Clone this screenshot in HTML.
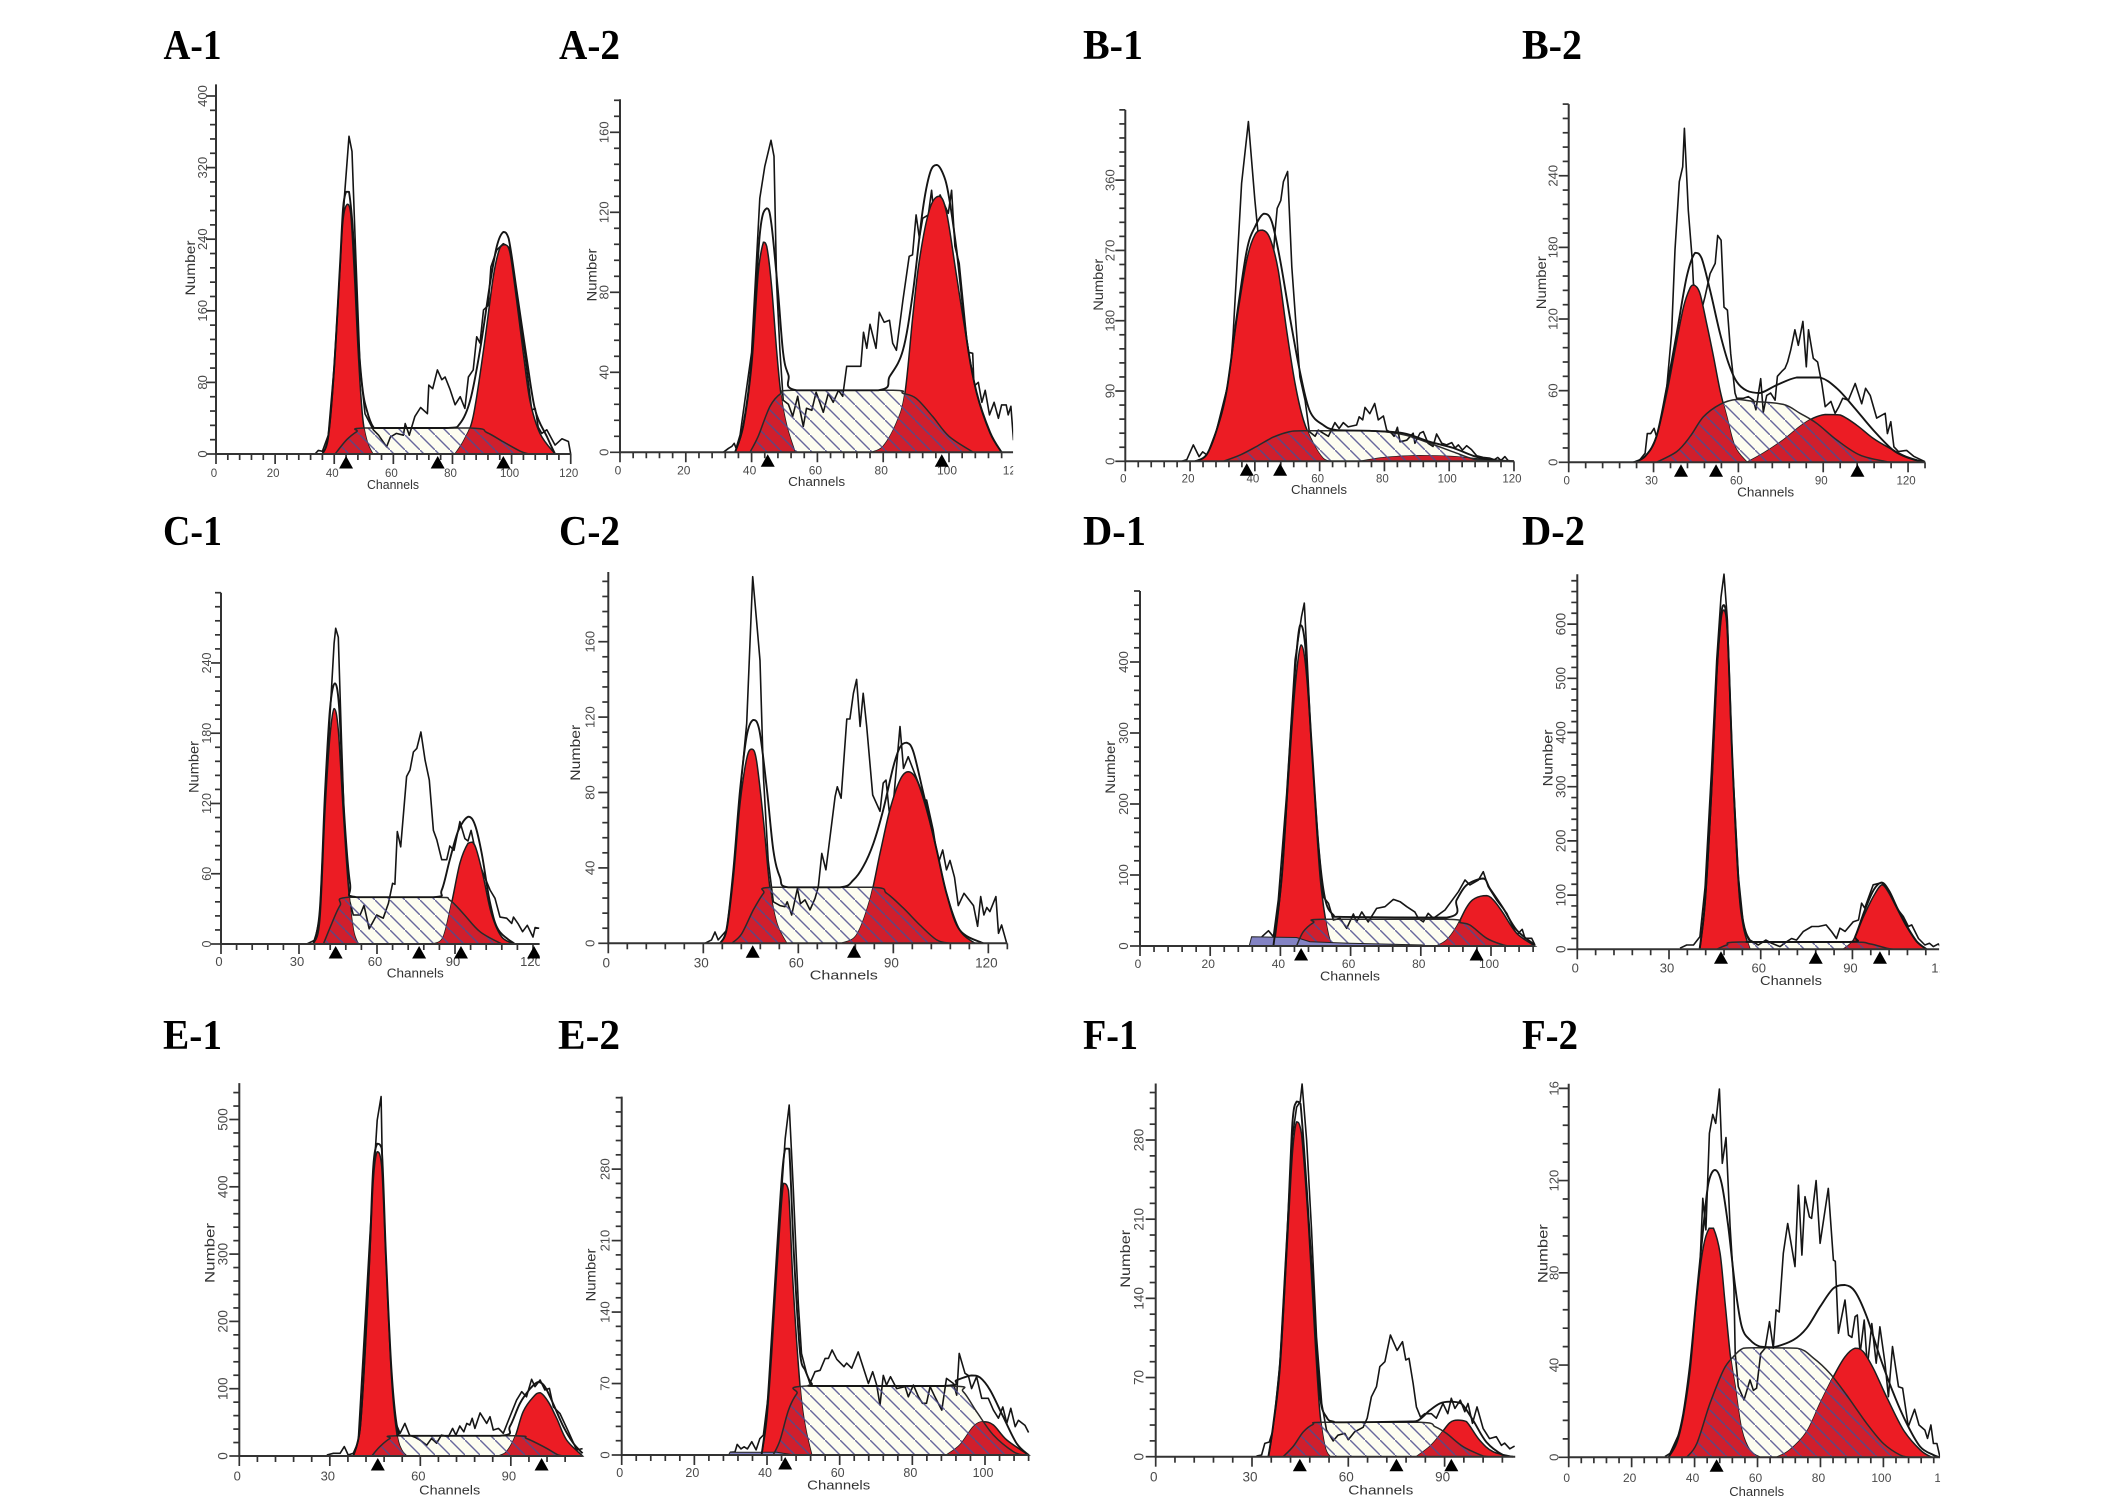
<!DOCTYPE html>
<html lang="en">
<head>
<meta charset="utf-8">
<title>Cell cycle DNA histograms</title>
<style>
html,body{margin:0;padding:0;background:#fff;}
svg{display:block;}
.title{font-family:"Liberation Serif",serif;font-weight:bold;font-size:42px;fill:#000;}
.xt{font-family:"Liberation Sans",sans-serif;font-size:13px;fill:#333;text-anchor:middle;}
.yt{font-family:"Liberation Sans",sans-serif;font-size:14px;fill:#333;text-anchor:middle;}
.tick{font-family:"Liberation Sans",sans-serif;fill:#4a4a4a;}
</style>
</head>
<body>
<svg id="figure" xmlns="http://www.w3.org/2000/svg" width="2126" height="1510" viewBox="0 0 2126 1510">
<defs>
<pattern id="hatch" patternUnits="userSpaceOnUse" width="15" height="15">
<path d="M-2,-2L17,17" stroke="#4d4d8e" stroke-opacity="0.85" stroke-width="1.4" fill="none"/>
</pattern>
</defs>
<rect width="2126" height="1510" fill="#fff"/>

<g id="a1">
<text class="title" x="163.5" y="59" textLength="58" lengthAdjust="spacingAndGlyphs">A-1</text>
<text class="xt" x="393" y="489" textLength="52" lengthAdjust="spacingAndGlyphs">Channels</text>
<text class="yt" transform="translate(195 268) rotate(-90)" textLength="55" lengthAdjust="spacingAndGlyphs">Number</text>
</g>
<g id="a2">
<text class="title" x="559" y="59" textLength="61" lengthAdjust="spacingAndGlyphs">A-2</text>
<text class="xt" x="816.7" y="486" textLength="57" lengthAdjust="spacingAndGlyphs">Channels</text>
<text class="yt" transform="translate(596.7 275) rotate(-90)" textLength="53" lengthAdjust="spacingAndGlyphs">Number</text>
</g>
<g id="b1">
<text class="title" x="1083" y="59" textLength="60" lengthAdjust="spacingAndGlyphs">B-1</text>
<text class="xt" x="1319" y="494" textLength="56" lengthAdjust="spacingAndGlyphs">Channels</text>
<text class="yt" transform="translate(1103 284.8) rotate(-90)" textLength="52" lengthAdjust="spacingAndGlyphs">Number</text>
</g>
<g id="b2">
<text class="title" x="1522" y="59" textLength="60" lengthAdjust="spacingAndGlyphs">B-2</text>
<text class="xt" x="1765.7" y="496.7" textLength="57" lengthAdjust="spacingAndGlyphs">Channels</text>
<text class="yt" transform="translate(1546 282.7) rotate(-90)" textLength="53" lengthAdjust="spacingAndGlyphs">Number</text>
</g>
<g id="c1">
<text class="title" x="163" y="545" textLength="59" lengthAdjust="spacingAndGlyphs">C-1</text>
<text class="xt" x="415.3" y="977.7" textLength="57" lengthAdjust="spacingAndGlyphs">Channels</text>
<text class="yt" transform="translate(198.3 767) rotate(-90)" textLength="52" lengthAdjust="spacingAndGlyphs">Number</text>
</g>
<g id="c2">
<text class="title" x="559" y="545" textLength="61" lengthAdjust="spacingAndGlyphs">C-2</text>
<text class="xt" x="843.8" y="979.3" textLength="68" lengthAdjust="spacingAndGlyphs">Channels</text>
<text class="yt" transform="translate(580 752.8) rotate(-90)" textLength="56" lengthAdjust="spacingAndGlyphs">Number</text>
</g>
<g id="d1">
<text class="title" x="1083" y="545" textLength="63" lengthAdjust="spacingAndGlyphs">D-1</text>
<text class="xt" x="1350" y="980.3" textLength="60" lengthAdjust="spacingAndGlyphs">Channels</text>
<text class="yt" transform="translate(1115 767.3) rotate(-90)" textLength="53" lengthAdjust="spacingAndGlyphs">Number</text>
</g>
<g id="d2">
<text class="title" x="1522" y="545" textLength="63" lengthAdjust="spacingAndGlyphs">D-2</text>
<text class="xt" x="1791" y="985" textLength="62" lengthAdjust="spacingAndGlyphs">Channels</text>
<text class="yt" transform="translate(1552.3 758) rotate(-90)" textLength="57" lengthAdjust="spacingAndGlyphs">Number</text>
</g>
<g id="e1">
<text class="title" x="163" y="1049" textLength="59" lengthAdjust="spacingAndGlyphs">E-1</text>
<text class="xt" x="449.7" y="1494.7" textLength="61" lengthAdjust="spacingAndGlyphs">Channels</text>
<text class="yt" transform="translate(214.3 1253) rotate(-90)" textLength="60" lengthAdjust="spacingAndGlyphs">Number</text>
</g>
<g id="e2">
<text class="title" x="558" y="1049" textLength="62" lengthAdjust="spacingAndGlyphs">E-2</text>
<text class="xt" x="838.7" y="1489.3" textLength="63" lengthAdjust="spacingAndGlyphs">Channels</text>
<text class="yt" transform="translate(595.7 1275) rotate(-90)" textLength="53" lengthAdjust="spacingAndGlyphs">Number</text>
</g>
<g id="f1">
<text class="title" x="1083" y="1049" textLength="55" lengthAdjust="spacingAndGlyphs">F-1</text>
<text class="xt" x="1380.8" y="1494.7" textLength="65" lengthAdjust="spacingAndGlyphs">Channels</text>
<text class="yt" transform="translate(1130 1258.8) rotate(-90)" textLength="58" lengthAdjust="spacingAndGlyphs">Number</text>
</g>
<g id="f2">
<text class="title" x="1522" y="1049" textLength="56" lengthAdjust="spacingAndGlyphs">F-2</text>
<text class="xt" x="1756.7" y="1496" textLength="55" lengthAdjust="spacingAndGlyphs">Channels</text>
<text class="yt" transform="translate(1547.7 1253.7) rotate(-90)" textLength="59" lengthAdjust="spacingAndGlyphs">Number</text>
</g>
</svg>

<script>
/* ---------- chart values: [channel, count] ---------- */
const a1XTicks=[0,20,40,60,80,100,120];
const a1YTicks=[0,80,160,240,320,400];
const a1Markers=[44,75,97.2];
const a1G1=[[36,0],[38,20],[40,95],[42,210],[43,262],[44.4,279],[45.6,268],[47,190],[48,120],[49.5,45],[51,15],[53,0]];
const a1S=[[40.3,0],[44.2,16],[47.6,25],[50.4,29],[86,29],[91.6,24],[97,14],[103,3],[106,0]];
const a1G2=[[80.9,0],[84,16],[87,42],[90.5,116],[93.8,198],[96,230],[97.8,234],[99.5,224],[101.7,172],[104,112],[106.2,60],[109.6,23],[114.7,0]];
const a1Fit=[[36,0],[38,20],[40,98],[42,215],[43,275],[44,293],[45,293],[46.5,240],[48,135],[49.5,75],[51,49],[53.2,30],[55,29],[78,29],[82.5,34],[86,60],[89.3,116],[92.7,190],[95,232],[97.2,248],[99,241],[101.7,183],[105,109],[108,49],[112,19],[114.7,0]];
const a1Raw=[[33.5,0],[34.6,4],[36,3],[38,21],[40,98],[42,209],[43.5,290],[45,355],[46,338],[47,247],[48.7,98],[50.4,45],[53.2,27],[55,21],[57.7,8],[59,19],[61,23],[63.4,21],[64,34],[65.4,21],[67.3,42],[69.2,52],[71.5,45],[72,77],[73.3,73],[74.9,94],[76.4,83],[77.5,86],[79.2,72],[80.9,55],[82.6,64],[84.2,51],[85.4,86],[87,94],[88.2,131],[89.3,124],[90.5,161],[92.1,166],[93,209],[95,228],[97.2,235],[99.5,230],[101.7,172],[104.5,112],[106.8,49],[108,51],[109,30],[110.2,23],[111.9,27],[114.7,10],[117,17],[119.2,14],[120,0]];

const a2XTicks=[0,20,40,60,80,100,120];
const a2YTicks=[0,40,80,120,160];
const a2Markers=[44.9,97.8];
const a2G1=[[35,0],[37.5,13],[40,43],[42,89.5],[43.6,105],[44.6,103],[46,84.5],[47.6,51],[49,28],[50.7,13],[53.2,0]];
const a2S=[[39.5,0],[42,8],[45.6,23],[49,29.5],[52.7,31],[83,31],[86,29.5],[90,27],[95,18],[100,8],[107.4,0]];
const a2G2=[[76.5,0],[80,3],[84,14.5],[86.6,29.5],[89,68],[91,96],[94,121],[97,128],[99.3,119.5],[102.3,88],[105.4,56],[108.4,29.5],[112.5,9.5],[116,0]];
const a2Fit=[[35,0],[37.5,14],[40,46],[42.5,109],[44.6,122],[46,114.5],[48,81],[49.6,49.5],[51.2,38.7],[53.7,31],[78.5,31],[82,38],[86,51],[89,79.5],[92,121],[94.2,139.5],[96.2,143.7],[98,140],[99.8,129.5],[102.3,101],[105.4,56],[108.4,30],[112.5,10],[116,0]];
const a2Raw=[[31.4,0],[33,2],[34,3],[34.7,4.5],[35.3,2],[36.5,8.7],[40,50],[42.5,127],[44,143],[45.9,156],[46.8,148],[47.6,84.5],[48.6,51],[49.6,26],[51.2,24],[52.5,18],[54,28],[54.7,21],[55.7,13],[56.7,22],[58.3,21],[59.6,30],[60.3,27],[61.8,20],[63.3,29.5],[64.8,25],[66.4,31],[67.7,28],[68.9,43],[73.2,43],[74,60],[75,52],[76,64],[77.8,52],[78.8,70],[80.3,65],[81.9,66],[82.9,54.5],[84,51],[86,76],[87.9,98],[88.9,98.7],[90,118.7],[91,107],[92,117],[93.7,118.7],[94.7,131],[95.4,118.7],[97.3,128.7],[99.8,119.5],[100.8,131],[101.8,103],[103.1,94.5],[105.4,56],[106,50],[107.2,49.5],[107.6,33],[108.9,35],[110,25],[111,31],[112.3,18.7],[113.7,25],[115,17],[116,23.7],[117.4,23.7],[118,18.7],[118.8,23],[119.6,6]];

const b1XTicks=[0,20,40,60,80,100,120];
const b1YTicks=[0,90,180,270,360];
const b1Markers=[37.5,47.8];
const b1G1=[[21.5,0],[25,8],[28.2,40],[31.3,91],[34.4,181],[37.5,258],[40,290],[42.4,296],[44.7,285],[47.2,245],[49.8,168],[52.4,100],[55,53],[58,23],[61,4],[63.2,0]];
const b1S=[[30.3,0],[35.4,8],[40.5,19],[45.7,31],[50.8,38],[55,39],[75.5,39],[85.8,34],[94,23],[101.3,12],[107.4,3],[112.6,0]];
const b1G2=[[72.5,0],[80.7,5],[91,7],[101,6],[111.5,2],[116.7,0]];
const b1Fit=[[21.5,0],[25,8],[28.2,40],[31.3,91],[34.4,185],[37.5,270],[40,300],[42.8,317],[45.2,307],[47.8,258],[50.8,185],[54,113],[57,64],[61.1,46.5],[65.2,40],[75.5,39],[85.8,36],[94,25],[101.3,17],[107.4,7],[112.6,2],[120,0]];
const b1Raw=[[17.4,0],[19,2],[21,21],[22.8,6],[23.9,12],[25.3,8],[28.2,40],[32.3,108],[33.3,164],[35.9,356],[38,435],[40,334],[42,249],[44.7,206],[46.2,292],[46.9,324],[48,334],[48.8,358],[50.1,371],[51.4,249],[52.9,164],[53.9,108],[55.5,78],[56.8,38],[58.6,32],[59.6,40],[61.1,36],[62.7,32],[64.7,49.5],[66,42],[67.3,49.5],[68.8,44],[71.4,46.5],[72.2,57],[73.3,53],[74,69],[75.5,61],[77,74],[78.1,53],[79.7,58],[80.7,40],[82.2,36],[83,32],[84,43.5],[84.8,25],[86.9,27],[88.9,36],[89.4,23],[91,36],[92,38],[93.5,23],[95,19],[96.1,35],[97.7,23],[99.2,21],[100.8,24],[101.8,17],[102.8,21],[104.1,14.5],[105.4,20],[106.9,15],[108.5,7],[110.5,5],[112.6,4],[114,2],[115,5],[116,1],[117.2,6],[118.2,1],[120,0]];

const b2XTicks=[0,30,60,90,120];
const b2YTicks=[0,60,120,180,240];
const b2Markers=[39.7,52.1,102.1];
const b2G1=[[22.9,0],[27,5],[31,21.5],[34.7,58],[37.6,94],[40.6,130],[42.9,146],[44.3,148.5],[46.4,141.5],[48.8,116],[51.2,88.5],[53.5,60.5],[55.9,38],[58.8,13],[63,0]];
const b2S=[[31,0],[38.2,9],[42.9,21.5],[47.6,38],[53.5,48.5],[59.4,52.7],[65.3,51],[75.9,48.5],[81.8,41],[87.7,32.7],[94.8,18.7],[103,6],[112.5,0.5],[114.8,0]];
const b2G2=[[63,0],[68.8,7.5],[75.9,18.7],[81.8,30],[86.5,37],[90.7,40],[96,39.6],[101.9,31],[107.7,20],[113.6,11.7],[119.5,4.7],[126,0]];
const b2Fit=[[22.9,0],[27,5],[31,21.5],[34.7,63],[38.2,108],[41.7,155],[44.7,175.5],[47,171],[50,144],[53.5,108],[56.5,83],[59.4,67.5],[63,60],[67.7,58],[73.6,64.7],[80.6,71],[88.9,71],[94.8,62],[100.7,46.6],[107.7,27],[114.8,10],[120.7,3.3],[126,0]];
const b2Raw=[[24.6,0.5],[27,7.5],[27.8,24],[29,24],[30.2,28.5],[31.4,18.7],[34.7,63],[36.4,108],[37.6,178],[39.1,235],[40.3,247.5],[40.9,279.7],[42.3,211],[43.7,169],[44.1,150],[46.4,122],[48.2,138.7],[50,158],[51.8,166.6],[52.7,190],[53.9,186],[54.9,130],[56.1,127.5],[57.3,91],[58.8,58],[59.4,53.6],[61.8,53.6],[63.5,55],[65.3,52],[66.2,44],[67.9,70],[68.8,42],[70,56],[71.4,58],[73,52],[73.8,72],[75.3,76],[76.5,78.7],[77.4,84],[78.5,94],[80,111],[81.2,98],[82.8,118],[84,80],[84.8,111],[86.5,87],[88,84],[89.5,66],[90.7,46.6],[92.7,51],[94.2,41],[95.4,46],[96.9,53.6],[98.9,52],[101.3,66],[103.6,49],[105,62],[106.6,56],[108.9,37],[111.9,41],[112.7,24],[113.9,34],[115,13],[116.6,9],[119.5,10],[122,5],[126,0.5]];

const c1XTicks=[0,30,60,90,120];
const c1YTicks=[0,60,120,180,240];
const c1Markers=[44.1,76.2,92.3,120.4];
const c1G1=[[35.5,0],[38,20.5],[40,114],[41.9,177],[43.5,201],[45.1,183],[47,114],[49,49],[50.9,12],[52.8,0]];
const c1S=[[39.4,0],[42.6,17.6],[45.8,33],[49,40],[83,40],[88,37.5],[93.2,26],[99.6,10.5],[108,0]];
const c1G2=[[81.7,0],[85.5,6],[88.7,35],[91.9,69],[95,86],[96.7,87],[98.3,80],[100.9,57.5],[104,26],[108,6],[113,0]];
const c1Fit=[[35.5,0],[38,29],[40,129],[41.9,200],[43.8,222.6],[45.5,200],[47.3,114],[49.6,52],[52.2,40],[81.7,40],[84.9,46],[88,72],[91.3,97],[95.1,108.7],[97.7,101.6],[100.3,77],[103.5,35],[106.7,12],[113,0]];
const c1Raw=[[33,0],[36.2,3.4],[38,23],[40,120],[41.9,194],[43.5,256.8],[44.1,269.6],[45.1,262],[46.4,171],[47.7,86],[49.4,37.6],[50.9,24.8],[53.5,24.8],[55,33],[57,13],[59.9,24.8],[62.4,22],[64.4,34.7],[66,51.8],[66.9,51],[67.8,96],[69.1,83],[71.4,143],[72.7,148.6],[74,164],[75.3,167],[76.9,181],[78.5,157],[80.1,140],[81.7,97],[83,89],[84.9,72],[86.8,72],[88,83.7],[89.6,80],[91.9,104.5],[93.8,90],[95,88],[96.2,97],[98.3,74.6],[100.9,60],[103.5,46],[105.4,39],[107.3,23],[109.9,22],[111.8,17.6],[112.5,23],[114.2,17.6],[116,10.5],[117.8,16],[120,6],[120.8,14],[122.4,13.4]];

const c2XTicks=[0,30,60,90,120];
const c2YTicks=[0,40,80,120,160];
const c2Markers=[45.6,77.6];
const c2G1=[[35.3,0],[37.4,7],[39.5,35],[41.6,74],[43.7,98],[45.3,103],[46.8,97],[49,65],[51,30],[53.2,10.6],[56.3,0]];
const c2S=[[39,0],[42.1,5],[45.8,17.7],[49,26.5],[51.6,29.7],[83.2,29.7],[87.9,26.5],[93.2,18.6],[98.4,9.7],[103.7,1.8],[107.9,0]];
const c2G2=[[73.7,0],[78.4,4.4],[82.6,23],[85.8,47.7],[88.9,70.7],[92.1,86.6],[94.7,91],[97.4,86.6],[100.5,70.7],[103.7,49.5],[106.8,26.5],[111,7],[115.8,0]];
const c2Fit=[[35.3,0],[37.4,8],[39.5,39],[41.6,81],[43.7,110],[45.8,118.5],[47.7,113],[50,83],[52.1,49.5],[54.2,35],[56.8,29.7],[73.2,29.7],[77.4,33.6],[80.5,40.7],[83.7,53],[86.8,70.7],[90,93.7],[92.1,104],[94.2,106.4],[96.3,101.7],[99.5,79.6],[103.7,49.5],[106.8,26.5],[111,7],[118.4,0]];
const c2Raw=[[30.5,0],[32.6,1.8],[33.7,6],[34.7,1.8],[37.4,7],[39.5,35],[42.1,88],[43.7,116.7],[45.6,194.5],[46.8,171.5],[47.9,150],[49,88],[50.5,44],[52.1,22],[54.2,20],[55.8,19.4],[56.5,22],[57.9,15],[59.7,29],[60.7,21],[62.1,23],[63.7,17.7],[65.3,23.9],[66.3,30],[67.4,47.7],[68.7,39],[71.6,77.8],[72.3,83],[73.5,77],[75.3,119],[76.3,119],[77.4,132.6],[78.4,140],[79.5,115],[80.5,132.6],[81.6,115],[83.5,78.7],[85.8,70],[86.8,85],[87.7,86.6],[88.7,70],[90,74],[92.1,115],[93.2,92.8],[94.7,99],[96.3,92],[100,76],[100.5,76],[102.6,60],[104.2,42.4],[105.6,49.5],[106.8,39],[107.9,44],[109.3,35],[110.5,20],[112.3,26.5],[115.3,20],[116.6,9],[117.6,24.8],[118.6,15],[119.5,19],[120.5,16.8],[122.4,24.8],[123.2,5.3],[124.2,9.7],[125.8,0]];

const d1XTicks=[0,20,40,60,80,100];
const d1YTicks=[0,100,200,300,400];
const d1Markers=[45.9,95.9];
const d1Debris=[[31.1,0],[31.8,13],[44.6,12],[48.4,6],[59.8,4],[80.7,1.4],[81,0]];
const d1G1=[[38,0],[38.5,10.8],[40.4,97.6],[42.3,238],[44.2,365],[45.9,424],[47.5,379],[49.4,238],[51.3,97.6],[53.2,27],[54.6,0]];
const d1S=[[44.6,0],[46.5,20],[49.4,33],[52.2,37.6],[87.4,37.6],[91.2,33],[94,29.6],[98.8,10.8],[103.5,1.4],[105.4,0]];
const d1G2=[[84.5,0],[87.4,8.5],[90.2,27],[93.1,55],[95.4,67],[98.8,71],[101.1,62.4],[103.5,46],[107.3,18],[112.5,0]];
const d1Fit=[[38,0],[40.4,97.6],[42.3,248],[44.2,389],[45.6,452],[47,426],[48.9,285],[50.8,144.6],[52.7,67],[55.1,43.7],[57.9,41],[87.4,40],[90.2,64.8],[93.1,86],[97.8,95],[99.7,81],[103.5,53],[107.3,22.5],[112.5,1.4]];
const d1Raw=[[34.7,13],[36.6,21.6],[38,13],[39.4,65],[41.8,215],[44.2,403],[46,464],[46.8,483],[47.3,436],[48.9,276],[50.8,144],[52.2,69.5],[53.7,60],[55.1,36.6],[57,39],[58.9,25],[60.8,45],[61.7,34],[63.2,48],[65,34],[67.4,53],[69.8,55.4],[72.2,65.7],[74.1,62.4],[76,55.4],[78.3,48],[79.3,39],[80.7,34],[82.1,46],[83.6,39],[86.9,50.7],[90.7,76.5],[92.6,93],[94,86],[96.4,93],[97.8,104.7],[99.2,83.6],[101.6,64.8],[104.5,46],[107.3,15.5],[108.9,23.5],[109.7,10.8],[111.6,10.8],[112.5,1.4]];

const d2XTicks=[0,30,60,90,120];
const d2YTicks=[0,100,200,300,400,500,600];
const d2Markers=[47,78,99];
const d2G1=[[40.1,0],[41.8,85],[43.9,288],[45.6,503],[47,607],[48,626],[49.1,583],[50.7,349],[52.7,122],[54.3,42],[56.5,0]];
const d2S=[[45.6,0],[48.9,8],[53.2,13.5],[89.2,13.5],[95.7,10],[101.2,2],[103.4,0]];
const d2G2=[[87,0],[90.3,17],[93.6,60],[96.8,97],[99.6,119],[101.7,106],[104.5,76],[107.7,42],[111,14],[114.3,0]];
const d2Fit=[[40,0],[41.8,90],[43.9,295],[45.6,510],[47,615],[48,635],[49.1,590],[50.7,355],[52.7,130],[54.3,50],[56.5,14],[58,13.5],[89,13.5],[91,25],[94,72],[97,110],[99.6,123],[102,108],[104.5,78],[107.7,44],[111,15],[114.3,0]];
const d2Raw=[[33.6,2],[35.8,8],[38,8],[40.1,23],[41.8,115],[43.9,330],[45.6,533],[47,650],[48,692],[49.1,607],[50.7,349],[52.7,134],[54.5,36],[56.5,17],[59.2,8],[61.7,17],[63.6,11],[66.3,5],[68.5,14],[70.1,20],[71.7,17],[73.9,32.6],[76.7,42],[78.9,42],[81.4,45],[83.2,32.6],[84.8,20],[85.9,39],[87.6,33],[90.3,51],[92,54],[93,85],[94,76],[96.8,119],[99.6,123],[101.7,109],[104.5,76],[106.7,60],[108.3,42],[109.4,45],[111.6,20],[113.7,8],[115.2,11],[116.5,5],[118.1,10],[118.8,5]];

const e1XTicks=[0,30,60,90];
const e1YTicks=[0,100,200,300,400,500];
const e1Markers=[45.9,100.2];
const e1G1=[[37.8,0],[40,38.6],[41.7,152],[43.3,301],[44.4,410],[45.7,452],[47.2,430],[48.6,291],[50.5,113],[52.2,33.7],[53.8,9],[55.5,0]];
const e1S=[[43.9,0],[46.6,14],[49.9,26],[52.7,30],[90.8,30],[95.2,26],[100.8,14],[105.7,1.5],[107.4,0]];
const e1G2=[[85.9,0],[88.6,6.4],[91.4,28.7],[94.1,66],[97.5,88],[99.7,94],[102.4,80.7],[105.2,56],[108.5,23.8],[113.8,0]];
const e1Fit=[[37.8,0],[40,41],[41.7,162],[43.3,311],[44.4,430],[45.7,464],[47.2,457],[48.6,300],[50.5,123],[52.7,34],[55.5,30],[86.4,30],[89.7,44],[93,78],[96.4,100],[99.1,110],[101.3,103],[104,78],[107.4,44],[110.7,19],[113.8,4]];
const e1Raw=[[29,1.5],[31.2,4],[33.4,4],[34.8,14],[36.1,1.5],[37.8,4],[39.4,21],[41.1,152],[43.3,326],[45,449],[45.7,499],[47,534],[47.5,410],[48.8,241.6],[51,58],[53.3,33.7],[54.9,48.5],[56.4,31],[58.2,28],[59.9,23.8],[62.1,16],[63.7,26],[65.4,19],[67,31],[69.3,28.7],[70.7,41],[71.8,31],[73.1,44.6],[74.4,36],[75.4,48.5],[76.4,46],[77.2,56],[78.1,41],[79.8,64],[82,48.5],[83.1,58.4],[84.2,38.6],[85.9,41],[87.5,33.7],[89.7,58.4],[91.9,83],[93.6,95.5],[95.2,88],[96.9,113.9],[98,103],[99.7,112.9],[101.3,98],[102.8,100.5],[104.1,73],[106.3,63],[109.1,36],[111.8,9],[113.8,11]];

const e2XTicks=[0,20,40,60,80,100];
const e2YTicks=[0,70,140,210,280];
const e2Markers=[45];
const e2Debris=[[29.4,0],[29.8,2.6],[42.7,2.6],[46.4,0.6],[46.6,0]];
const e2G1=[[38.5,0],[39.9,34],[41.3,99.5],[42.7,181],[44.5,266],[45.9,259],[47.2,165],[49.1,67],[50.5,28],[52.3,0]];
const e2S=[[41.7,0],[43.6,14.7],[45.9,44],[48.2,60],[50.9,67.6],[90.4,67.6],[94,62],[97.7,42.4],[102.3,19.6],[107.8,3.3],[110.6,0]];
const e2G2=[[89.4,0],[93.1,9.8],[96.8,27.7],[99.5,32.6],[102.3,29.4],[106,14.7],[112,0]];
const e2Fit=[[38.5,0],[39.9,40],[41.3,115],[42.7,197],[44,269],[45,300],[46.1,300],[47.4,197],[49.1,99.5],[50.5,83],[52.3,70],[54.6,67.6],[88.5,67.6],[92.2,73.4],[96.3,78],[98.6,76],[101.4,63.6],[105,37.5],[108.7,11.4],[112,0]];
const e2Raw=[[29.8,2.6],[31.2,3],[31.8,10.4],[32.8,6],[33.7,8],[34.6,6],[35.8,13],[37,5],[38,16],[39,19.6],[40.4,60],[42.7,181],[44.2,269],[45,310],[46.1,342.7],[47.2,262.7],[48.6,148.5],[49.5,99.5],[50.9,80],[51.8,70],[53.2,81.6],[54.6,83],[56,94.6],[56.9,94.6],[57.9,102.8],[59.2,93.7],[61.2,86.5],[61.9,90],[63.3,85],[65.1,101],[67,80],[67.9,70],[69.1,81.6],[70.2,68.5],[71.1,49],[72,78],[72.9,68.5],[74,76.7],[75.7,65],[78,67],[78.9,57],[80.3,68.5],[81.7,57],[82.8,50.6],[83.9,50.6],[84.9,67],[86.2,57],[88.1,44],[89.4,75],[91.3,70],[92.2,58.7],[92.9,99.5],[94.5,80],[95.4,78],[96.3,65],[97.7,76.7],[99.1,55.5],[100.9,55.5],[102.3,44],[103.7,36],[104.9,47],[106,31],[107.1,45.7],[108.3,27.7],[109.2,34],[111,29],[112,22]];

const f1XTicks=[0,30,60,90];
const f1YTicks=[0,70,140,210,280];
const f1Markers=[44.9,75,92.1];
const f1G1=[[35.1,0],[36.6,26.5],[38.7,76.6],[40.8,180],[42.6,268],[43.9,296],[45.4,286],[47.5,209],[49.6,106],[51.1,41],[52.7,9],[54.3,0]];
const f1S=[[39.7,0],[42.8,9],[46,22],[49,28.6],[52.2,30.4],[82.3,30.4],[87,26.5],[90.6,20.6],[95.7,9],[102,0.6],[103.5,0]];
const f1G2=[[81.2,0],[85.4,9],[88.5,19],[91.6,30],[94.2,32.4],[96.8,31],[100.9,14.7],[105.1,4.4],[111.3,0]];
const f1Fit=[[35.1,0],[36.6,28],[38.7,82],[40.8,186],[42.6,295],[43.9,314],[45.1,312],[47,239],[49,150],[51.1,56],[53.2,35],[55.3,31],[58.4,30.4],[78.1,31],[81.7,32],[85.4,41],[88.5,47],[91.6,48.6],[95.2,47],[98.9,32],[103,13],[108.2,1.5],[111.3,0]];
const f1Raw=[[31.4,0.6],[33,1.5],[34,11.8],[35.4,13],[36.6,24],[38.7,82],[40.8,192],[42.6,283],[43.9,309],[45,314],[45.6,329.5],[47,280],[48.5,203],[50.1,106],[51.7,47],[53.2,23.6],[55.3,14],[56.8,19],[58.9,20.6],[60,15],[62,22],[64.6,26],[65.9,34],[67.2,53],[68.8,62],[69.8,79.6],[71.4,84],[73.1,107.6],[75.2,94],[76.9,101.7],[77.9,85.5],[78.9,87],[80.2,65],[81.2,44],[82.5,35],[83.8,38],[85.9,38],[87.4,34],[89.5,47],[91,38],[92.1,51.6],[93.2,42.7],[94.9,50],[96.3,39.8],[97.3,47],[98.7,29.5],[100.1,44],[102,25],[104,16],[106.1,17.7],[107.7,10],[108.7,12],[110.3,7],[111.8,9.4]];

const f2XTicks=[0,20,40,60,80,100,120];
const f2YTicks=[0,40,80,120,160];
const f2Markers=[47];
const f2G1=[[31.7,0],[34.3,6],[36.4,17.6],[38.6,37.9],[40.7,69.7],[42.8,91.3],[44.6,99.3],[46,99.3],[48.1,88.4],[49.7,66.8],[51.3,45],[52.9,30.6],[55,11.8],[57.6,3],[60.8,0]];
const f2S=[[37.5,0],[40.7,6],[44.9,23.4],[49.2,37.9],[52.3,43.6],[55.5,47.3],[59.7,47.5],[72.5,47.3],[77.8,43],[83,36.4],[88.3,27],[94.7,14.7],[100,6],[105.3,1],[108.5,0]];
const f2G2=[[66.1,0],[70.3,3.2],[75.6,11],[79.9,23.4],[84.1,35],[87.8,43.6],[91,47.3],[93.6,45.8],[96.8,38.6],[101,26.3],[106.4,11.8],[111.7,3.2],[115.4,0]];
const f2Fit=[[31.7,0],[34.3,7],[36.4,19],[38.6,41],[40.7,71],[42.8,100],[44.4,118.8],[46.5,124.6],[48.6,118.8],[50.7,100],[52.9,74],[55,56.6],[57.6,50.9],[60.8,48],[65,47.7],[71.4,50.9],[75.6,56],[79.9,65.3],[84.1,73.3],[87.8,74.7],[91,71.8],[94.7,61],[98.9,43.6],[103.2,27.7],[107.4,14.7],[111.7,4.6],[115.9,1],[118,0]];
const f2Raw=[[30.6,0.3],[32.2,1.7],[34.9,9.7],[37.5,20.5],[39.6,37.9],[41.2,66.8],[42.6,112.3],[43.6,98.6],[44.7,140.5],[45.8,148.7],[46.7,144.8],[47.9,159.7],[48.8,127.5],[50,138.7],[51.3,100],[52.5,74],[52.9,45],[53.9,30.6],[55.7,24.9],[57.6,33.5],[58.7,29],[59.7,30],[61,45],[62.4,47.3],[63.8,58.8],[65,47.3],[65.9,63.9],[66.9,63],[68.2,88.4],[69.6,101.4],[71.9,82.7],[73,118],[74.1,87.7],[75.1,113],[76.5,104.3],[77.2,103.6],[78.6,120],[79.9,92.8],[82.5,116.6],[84.1,85.5],[84.7,85],[85.7,53.8],[87.8,68.2],[88.9,53],[90,52],[91,61],[91.7,61.7],[92.6,45],[93.9,59.5],[94.9,39.3],[96.3,58],[97.7,40.8],[98.9,56.6],[100.5,40.8],[101.6,26.3],[102.9,48],[104.8,30.6],[106.1,30],[107.9,13.3],[109.9,20.8],[111.3,14],[113.2,11.8],[114,8.2],[115.1,14],[115.9,6],[117,6],[118,0]];

/* ---------- axis layouts (pixels per unit, not data) ---------- */
const layouts={
 a1:{x0:216,sx:2.956,y0:454,sy:0.895,xEnd:120,yTop:413,xMinor:4,yMinor:16,xDy:23,yDx:9,xFs:11.5,yFs:13,clip:false},
 a2:{x0:620,sx:3.29,y0:452.3,sy:2,xEnd:119.5,yTop:176.5,xMinor:4,yMinor:8,xDy:22,yDx:11.7,xFs:12,yFs:13,clip:true},
 b1:{x0:1125.3,sx:3.239,y0:461.3,sy:0.781,xEnd:120,yTop:450,xMinor:4,yMinor:18,xDy:21.4,yDx:11,xFs:11.5,yFs:13,clip:false},
 b2:{x0:1568.7,sx:2.828,y0:462.3,sy:1.194,xEnd:126,yTop:300,xMinor:6,yMinor:12,xDy:22,yDx:11,xFs:11.5,yFs:13,clip:false},
 c1:{x0:221,sx:2.6,y0:944,sy:1.171,xEnd:122.6,yTop:300,xMinor:6,yMinor:12,xDy:22,yDx:10,xFs:13,yFs:12.5,clip:true},
 c2:{x0:608.3,sx:3.167,y0:943.3,sy:1.885,xEnd:126,yTop:197,xMinor:6,yMinor:8,xDy:24,yDx:14,xFs:13.5,yFs:13,clip:false},
 d1:{x0:1140,sx:3.51,y0:946,sy:0.71,xEnd:112.5,yTop:500,xMinor:4,yMinor:20,xDy:22,yDx:12,xFs:12,yFs:13,clip:false},
 d2:{x0:1577.3,sx:3.057,y0:949.3,sy:0.542,xEnd:118.4,yTop:692,xMinor:6,yMinor:20,xDy:23.4,yDx:12,xFs:13,yFs:13.5,clip:true},
 e1:{x0:239.3,sx:3.017,y0:1456,sy:0.673,xEnd:113.8,yTop:554,xMinor:6,yMinor:20,xDy:24.7,yDx:12,xFs:13,yFs:13.5,clip:false},
 e2:{x0:621.7,sx:3.633,y0:1455,sy:1.021,xEnd:112,yTop:351,xMinor:4,yMinor:14,xDy:22,yDx:12.4,xFs:12.5,yFs:13,clip:false},
 f1:{x0:1155.7,sx:3.21,y0:1456.7,sy:1.131,xEnd:112,yTop:330,xMinor:6,yMinor:14,xDy:24.6,yDx:12.4,xFs:13.5,yFs:13.5,clip:false},
 f2:{x0:1568.7,sx:3.147,y0:1457.3,sy:2.306,xEnd:118,yTop:162,xMinor:4,yMinor:8,xDy:24.7,yDx:10.4,xFs:12,yFs:13,clip:true}
};

const panels=[
 {id:'a1',raw:a1Raw,fit:a1Fit,g1:a1G1,s:a1S,g2:a1G2,markers:a1Markers,xTicks:a1XTicks,yTicks:a1YTicks},
 {id:'a2',raw:a2Raw,fit:a2Fit,g1:a2G1,s:a2S,g2:a2G2,markers:a2Markers,xTicks:a2XTicks,yTicks:a2YTicks},
 {id:'b1',raw:b1Raw,fit:b1Fit,g1:b1G1,s:b1S,g2:b1G2,markers:b1Markers,xTicks:b1XTicks,yTicks:b1YTicks},
 {id:'b2',raw:b2Raw,fit:b2Fit,g1:b2G1,s:b2S,g2:b2G2,markers:b2Markers,xTicks:b2XTicks,yTicks:b2YTicks},
 {id:'c1',raw:c1Raw,fit:c1Fit,g1:c1G1,s:c1S,g2:c1G2,markers:c1Markers,xTicks:c1XTicks,yTicks:c1YTicks},
 {id:'c2',raw:c2Raw,fit:c2Fit,g1:c2G1,s:c2S,g2:c2G2,markers:c2Markers,xTicks:c2XTicks,yTicks:c2YTicks},
 {id:'d1',raw:d1Raw,fit:d1Fit,g1:d1G1,s:d1S,g2:d1G2,debris:d1Debris,markers:d1Markers,xTicks:d1XTicks,yTicks:d1YTicks},
 {id:'d2',raw:d2Raw,fit:d2Fit,g1:d2G1,s:d2S,g2:d2G2,markers:d2Markers,xTicks:d2XTicks,yTicks:d2YTicks},
 {id:'e1',raw:e1Raw,fit:e1Fit,g1:e1G1,s:e1S,g2:e1G2,markers:e1Markers,xTicks:e1XTicks,yTicks:e1YTicks},
 {id:'e2',raw:e2Raw,fit:e2Fit,g1:e2G1,s:e2S,g2:e2G2,debris:e2Debris,markers:e2Markers,xTicks:e2XTicks,yTicks:e2YTicks},
 {id:'f1',raw:f1Raw,fit:f1Fit,g1:f1G1,s:f1S,g2:f1G2,markers:f1Markers,xTicks:f1XTicks,yTicks:f1YTicks},
 {id:'f2',raw:f2Raw,fit:f2Fit,g1:f2G1,s:f2S,g2:f2G2,markers:f2Markers,xTicks:f2XTicks,yTicks:f2YTicks}
];

const NS='http://www.w3.org/2000/svg';
function mk(tag,attrs,parent){
  const el=document.createElementNS(NS,tag);
  for(const k in attrs){el.setAttribute(k,attrs[k]);}
  parent.appendChild(el);
  return el;
}
function rawPath(pts,X,Y){
  return pts.map((p,i)=>(i?'L':'M')+X(p[0]).toFixed(1)+','+Y(p[1]).toFixed(1)).join('');
}
function smoothPath(pts,X,Y){
  const P=pts.map(p=>[X(p[0]),Y(p[1])]);
  let d='M'+P[0][0].toFixed(1)+','+P[0][1].toFixed(1);
  for(let i=0;i<P.length-1;i++){
    const a=P[Math.max(i-1,0)],b=P[i],c=P[i+1],e=P[Math.min(i+2,P.length-1)];
    const lo=Math.min(b[1],c[1]),hi=Math.max(b[1],c[1]);
    const cl=v=>Math.max(lo,Math.min(hi,v));
    const c1x=b[0]+(c[0]-a[0])/6,c1y=cl(b[1]+(c[1]-a[1])/6);
    const c2x=c[0]-(e[0]-b[0])/6,c2y=cl(c[1]-(e[1]-b[1])/6);
    d+='C'+c1x.toFixed(1)+','+c1y.toFixed(1)+' '+c2x.toFixed(1)+','+c2y.toFixed(1)+' '+c[0].toFixed(1)+','+c[1].toFixed(1);
  }
  return d;
}

const svg=document.getElementById('figure');
const defs=svg.querySelector('defs');

panels.forEach(function(p){
  const L=layouts[p.id];
  const X=c=>L.x0+c*L.sx;
  const Y=v=>L.y0-v*L.sy;
  const root=document.getElementById(p.id);
  const plot=mk('g',{},root);
  
  

  const clipId='clip-s-'+p.id;
  const sClip=mk('clipPath',{id:clipId},defs);
  const sD=smoothPath(p.s,X,Y)+'Z';
  mk('path',{d:sD},sClip);

  if(L.clip){
    const rc=mk('clipPath',{id:'clip-r-'+p.id},defs);
    mk('rect',{x:L.x0-40,y:L.y0-520,width:X(L.xEnd)-L.x0+40,height:560},rc);
    plot.setAttribute('clip-path','url(#clip-r-'+p.id+')');
  }

  const sFill=mk('path',{d:sD,fill:'#fdfdf0'},plot);
  
  

  const raw=mk('path',{d:rawPath(p.raw,X,Y),fill:'none',stroke:'#151515','stroke-width':1.6,'stroke-linejoin':'round'},plot);
  
  

  const g1D=smoothPath(p.g1,X,Y)+'Z';
  const g2D=smoothPath(p.g2,X,Y)+'Z';
  const g1=mk('path',{d:g1D,fill:'#ec1c24',stroke:'#1d1d1d','stroke-width':1.5},plot);
  
  
  const g2=mk('path',{d:g2D,fill:'#ec1c24',stroke:'#1d1d1d','stroke-width':1.5},plot);
  
  

  const ov1=mk('path',{d:g1D,fill:'#d01f2c','clip-path':'url(#'+clipId+')'},plot);
  
  
  const ov2=mk('path',{d:g2D,fill:'#d01f2c','clip-path':'url(#'+clipId+')'},plot);
  
  

  const hatch=mk('path',{d:sD,fill:'url(#hatch)'},plot);
  
  

  if(p.debris){
    const deb=mk('path',{d:rawPath(p.debris,X,Y)+'Z',fill:'#8383c4',stroke:'#222','stroke-width':1},plot);
    
    
  }

  const sLine=mk('path',{d:smoothPath(p.s,X,Y),fill:'none',stroke:'#2a2a2a','stroke-width':1.5},plot);
  
  

  const fit=mk('path',{d:smoothPath(p.fit,X,Y),fill:'none',stroke:'#151515','stroke-width':1.9,'stroke-linejoin':'round'},plot);
  
  

  const xLine=mk('line',{x1:L.x0,y1:Y(0),x2:X(L.xEnd),y2:Y(0),stroke:'#333','stroke-width':2},plot);
  
  
  const yLine=mk('line',{x1:L.x0,y1:Y(0)+1,x2:L.x0,y2:Y(L.yTop),stroke:'#333','stroke-width':2},plot);
  
  

  for(let c=0;c<=L.xEnd+0.01;c+=L.xMinor){
    const major=p.xTicks.indexOf(c)>=0;
    const t=mk('line',{x1:X(c),y1:Y(0),x2:X(c),y2:Y(0)+(major?10:6),stroke:'#333','stroke-width':1.7},plot);
    
    
  }
  for(let v=0;v<=L.yTop;v+=L.yMinor){
    const major=p.yTicks.indexOf(v)>=0;
    const t=mk('line',{x1:L.x0,y1:Y(v),x2:L.x0-(major?10:6),y2:Y(v),stroke:'#333','stroke-width':1.7},plot);
    
    
  }

  p.xTicks.forEach(function(c){
    const t=mk('text',{x:X(c)-2,y:Y(0)+L.xDy,'text-anchor':'middle','class':'tick','font-size':L.xFs},plot);
    
    
    t.textContent=String(c);
  });
  p.yTicks.forEach(function(v){
    const tx=L.x0-L.yDx,ty=Y(v);
    const t=mk('text',{transform:'translate('+tx+' '+ty+') rotate(-90)','text-anchor':'middle','class':'tick','font-size':L.yFs},plot);
    
    
    t.textContent=(p.id==='f2'&&v===160)?'16':String(v);
  });

  p.markers.forEach(function(c){
    const px=X(c),py=Y(0);
    const m=mk('polygon',{points:(px)+','+(py+2)+' '+(px-7)+','+(py+14.5)+' '+(px+7)+','+(py+14.5),fill:'#000'},plot);
    
    
  });
});
</script>
</body>
</html>
